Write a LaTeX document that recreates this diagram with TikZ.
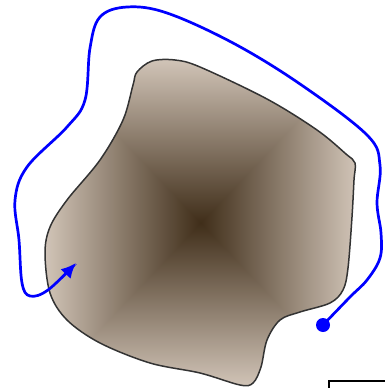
\documentclass[tikz,border=0pt]{standalone}
\usetikzlibrary{arrows.meta}
\pgfdeclarefunctionalshading{pyramid}{\pgfpoint{-50bp}{-50bp}}{\pgfpoint{50bp}{50bp}}{}{
  abs exch abs 2 copy lt {exch} if pop
  25 div dup 1 gt {pop 1} if
  dup 0.57 mul 0.25 add exch
  dup 0.59 mul 0.18 add exch
  0.62 mul 0.10 add
}
\tikzset{
  blob/.style={draw=black!80, line width=1.5pt, shading=pyramid},
  bluecurve/.style={draw=blue, line width=2.7pt, -{Latex[length=15pt,width=14pt]}},
  frameline/.style={draw=black, line width=1.3pt}
}
\begin{document}
\begin{tikzpicture}[x=1pt,y=-1pt]
\useasboundingbox (0,0) rectangle (384,388);
\shade[blob] plot[smooth cycle, tension=0.55] coordinates {
  (137,72) (152,61) (175,60) (200,67) (267,99) (317,130) (346,154) (355,163)
  (354,180) (352,217) (348,268) (343,290) (330,303) (300,312) (280,320) (267,340)
  (261,367) (253,383) (240,385) (200,373) (150,363) (100,343) (67,320)
  (50,293) (45,253) (50,227) (67,200) (100,160) (123,120) (133,85)};
\path[bluecurve] plot[smooth, tension=0.6] coordinates {
  (323,325) (350,297) (367,280) (380,258) (381,233) (377,203) (380,165)
  (367,135) (300,84) (233,43) (167,13) (127,7) (100,17) (90,48) (85,100)
  (67,127) (27,167) (15,200) (19,240) (22,283) (30,296) (48,290) (76,263)};
\fill[blue] (323,325) circle (7);
\draw[frameline] (329,392) -- (329,381) -- (390,381);
\end{tikzpicture}
\end{document}
